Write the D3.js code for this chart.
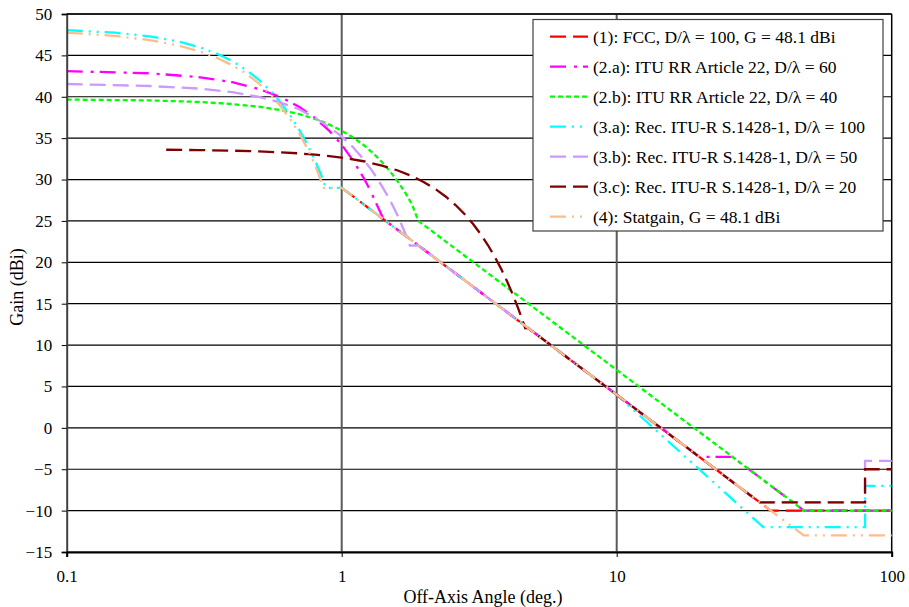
<!DOCTYPE html>
<html>
<head>
<meta charset="utf-8">
<script src="https://cdn.jsdelivr.net/npm/d3@7"></script>
<style>
  html, body { margin: 0; padding: 0; background: #fff; }
  svg { display: block; }
  text { font-family: "Liberation Serif", "Times New Roman", serif; fill: #000; }
</style>
</head>
<body>
<svg id="chart" width="909" height="607"></svg>
<script>
// ---------- DATA ----------
const yTicks = [-15, -10, -5, 0, 5, 10, 15, 20, 25, 30, 35, 40, 45, 50];
const xTicks = [0.1, 1, 10, 100];
const xTickLabels = ["0.1", "1", "10", "100"];

const seriesNames = [
  "(1): FCC, D/\u03bb = 100, G = 48.1 dBi",
  "(2.a): ITU RR Article 22, D/\u03bb = 60",
  "(2.b): ITU RR Article 22, D/\u03bb = 40",
  "(3.a): Rec. ITU-R S.1428-1, D/\u03bb = 100",
  "(3.b): Rec. ITU-R S.1428-1, D/\u03bb = 50",
  "(3.c): Rec. ITU-R S.1428-1, D/\u03bb = 20",
  "(4): Statgain, G = 48.1 dBi"
];

// (1) FCC
const fccAngle = [1, 36.3, 100];
const fccGain  = [29, -10, -10];

// (2.a) ITU RR Art. 22, D/lambda = 60
const rr60Angle = [0.1, 0.2, 0.3, 0.4, 0.5, 0.6, 0.7, 0.8, 0.9, 1.0, 1.1, 1.2, 1.27, 1.42, 20, 26.3, 48, 100];
const rr60Gain  = [43.1, 42.84, 42.39, 41.76, 40.95, 39.96, 38.79, 37.44, 35.91, 34.2, 32.31, 30.24, 28.7, 25.2, -3.5, -3.5, -10, -10];

// (2.b) ITU RR Art. 22, D/lambda = 40
const rr40Angle = [0.1, 0.2, 0.3, 0.4, 0.5, 0.6, 0.7, 0.8, 0.9, 1.0, 1.1, 1.2, 1.3, 1.4, 1.5, 1.6, 1.7, 1.8, 1.84, 1.9, 48, 100];
const rr40Gain  = [39.66, 39.56, 39.38, 39.12, 38.8, 38.38, 37.9, 37.32, 36.66, 35.9, 35.08, 34.18, 33.2, 32.12, 30.98, 29.75, 28.44, 27.04, 26.2, 25.0, -10, -10];

// (3.a) S.1428-1, D/lambda = 100
const s100Angle = [0.1, 0.15, 0.2, 0.25, 0.3, 0.35, 0.4, 0.45, 0.5, 0.55, 0.6, 0.65, 0.7, 0.75, 0.8, 0.85, 0.875, 1.0, 10, 34.1, 80, 80, 100];
const s100Gain  = [48.05, 47.74, 47.3, 46.74, 46.05, 45.24, 44.3, 43.24, 42.05, 40.74, 39.3, 37.74, 36.05, 34.24, 32.3, 30.24, 29.0, 29.0, 4.0, -12, -12, -7, -7];

// (3.b) S.1428-1, D/lambda = 50
const s50Angle = [0.1, 0.2, 0.3, 0.4, 0.5, 0.6, 0.7, 0.8, 0.9, 1.0, 1.1, 1.2, 1.3, 1.4, 1.5, 1.6, 1.7, 1.77, 1.9, 33.1, 80, 80, 100];
const s50Gain  = [41.54, 41.3, 41.0, 40.55, 40.0, 39.3, 38.5, 37.45, 36.35, 35.2, 33.9, 32.45, 30.9, 29.2, 27.5, 25.6, 23.54, 22.02, 22.03, -9, -9, -4, -4];

// (3.c) S.1428-1, D/lambda = 20
const s20Angle = [0.23, 0.3, 0.4, 0.5, 0.6, 0.7, 0.8, 0.9, 1.0, 1.2, 1.4, 1.6, 1.8, 2.0, 2.2, 2.4, 2.6, 2.8, 3.0, 3.2, 3.4, 3.6, 3.8, 4.0, 4.2, 4.4, 4.6, 4.65, 4.75, 33.1, 80, 80, 100];
const s20Gain  = [33.6, 33.56, 33.49, 33.4, 33.29, 33.16, 33.01, 32.84, 32.65, 32.21, 31.69, 31.09, 30.41, 29.65, 28.81, 27.89, 26.89, 25.81, 24.65, 23.41, 22.09, 20.69, 19.21, 17.65, 16.01, 14.29, 12.49, 12.03, 12.08, -9, -9, -5, -5];

// (4) Statgain, G = 48.1 dBi
const statAngle = [0.1, 0.15, 0.2, 0.25, 0.3, 0.35, 0.4, 0.45, 0.5, 0.55, 0.6, 0.65, 0.7, 0.75, 0.8, 0.86, 1.0, 47.9, 100];
const statGain  = [47.75, 47.35, 46.85, 46.25, 45.55, 44.75, 43.8, 42.8, 41.6, 40.3, 38.85, 37.3, 35.6, 33.75, 31.75, 29.0, 29.0, -13, -13];

const seriesColors = ["#ff0000", "#ff00ff", "#00ff00", "#00ffff", "#cc99ff", "#800000", "#fbbd8c"];
const seriesDashes = ["16,7", "16,8,3,6", "5,3", "16,6,2,6,2,6", "16,7", "16,7", "16,6,2,6,2,6"];

// ---------- CHART ----------
const svg = d3.select("#chart");
const pLeft = 66.7, pRight = 891.7, pTop = 14, pBottom = 552;

const x = d3.scaleLog().domain([0.1, 100]).range([pLeft, pRight]);
const y = d3.scaleLinear().domain([-15, 50]).range([pBottom, pTop]);

// horizontal gridlines
svg.append("g").selectAll("line").data(yTicks).join("line")
  .attr("x1", pLeft).attr("x2", pRight)
  .attr("y1", d => y(d)).attr("y2", d => y(d))
  .attr("stroke", "#000").attr("stroke-width", 1.2);

// vertical gridlines
svg.append("g").selectAll("line").data([1, 10]).join("line")
  .attr("x1", d => x(d)).attr("x2", d => x(d))
  .attr("y1", pTop).attr("y2", pBottom)
  .attr("stroke", "#5a5a5a").attr("stroke-width", 2);

// right border
svg.append("line").attr("x1", x(100)).attr("x2", x(100)).attr("y1", pTop).attr("y2", pBottom)
  .attr("stroke", "#000").attr("stroke-width", 1.5);

// series
const allAngles = [fccAngle, rr60Angle, rr40Angle, s100Angle, s50Angle, s20Angle, statAngle];
const allGains  = [fccGain, rr60Gain, rr40Gain, s100Gain, s50Gain, s20Gain, statGain];
const line = d3.line().x(d => x(d[0])).y(d => y(d[1]));

allAngles.forEach((ang, i) => {
  const pts = ang.map((a, j) => [a, allGains[i][j]]);
  svg.append("path").datum(pts)
    .attr("d", line)
    .attr("fill", "none")
    .attr("stroke", seriesColors[i])
    .attr("stroke-width", 2.3)
    .attr("stroke-dasharray", seriesDashes[i]);
});

// y axis
const yAxis = svg.append("g").attr("transform", `translate(${pLeft},0)`)
  .call(d3.axisLeft(y).tickValues(yTicks).tickFormat(d3.format("d")).tickSize(5).tickPadding(9.5));
yAxis.select(".domain").attr("stroke", "#404040").attr("stroke-width", 2);
yAxis.selectAll(".tick line").attr("stroke", "#000");
yAxis.selectAll("text").style("font-size", "17px").style("font-family", "Liberation Serif, serif");

// x axis
const xAxis = svg.append("g").attr("transform", `translate(0,${pBottom})`)
  .call(d3.axisBottom(x).tickValues(xTicks).tickFormat((d, i) => xTickLabels[i]).tickSize(5).tickPadding(13));
xAxis.select(".domain").attr("stroke", "#000").attr("stroke-width", 2);
xAxis.selectAll(".tick line").attr("stroke", "#000");
xAxis.selectAll("text").style("font-size", "17px").style("font-family", "Liberation Serif, serif");

// top border line
svg.append("line").attr("x1", pLeft).attr("x2", pRight).attr("y1", pTop).attr("y2", pTop)
  .attr("stroke", "#000").attr("stroke-width", 1.5);

// axis titles
svg.append("text").attr("x", 483).attr("y", 603)
  .attr("text-anchor", "middle").style("font-size", "18px").text("Off-Axis Angle (deg.)");
svg.append("text").attr("transform", "translate(23,287) rotate(-90)")
  .attr("text-anchor", "middle").style("font-size", "18px").text("Gain (dBi)");

// legend
const lg = svg.append("g");
lg.append("rect").attr("x", 533).attr("y", 19.5).attr("width", 350).attr("height", 211.5)
  .attr("fill", "#fff").attr("stroke", "#404040").attr("stroke-width", 1.2);
seriesNames.forEach((name, i) => {
  const cy = 36.7 + i * 30;
  lg.append("line").attr("x1", 550).attr("x2", 588).attr("y1", cy).attr("y2", cy)
    .attr("stroke", seriesColors[i]).attr("stroke-width", 2.3)
    .attr("stroke-dasharray", seriesDashes[i]);
  lg.append("text").attr("x", 593).attr("y", cy + 6)
    .style("font-size", "17.5px").text(name);
});
</script>
</body>
</html>
